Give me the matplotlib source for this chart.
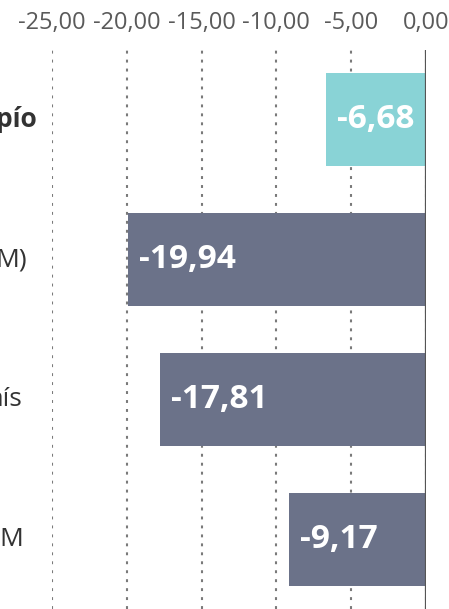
import numpy as np
import matplotlib.pyplot as plt

plt.rcParams['font.family'] = ['Open Sans', 'DejaVu Sans']

# data (labels are cut off on the left in the reference, only their ends show)
labels = ["pío", "M)", "aís", "M"]
label_bold = [True, False, False, False]
label_x = [-0.040, -0.067, -0.078, -0.078]   # right end, axes fraction
values = [-6.68, -19.94, -17.81, -9.17]
colors = ["#89D3D6", "#6B7289", "#6B7289", "#6B7289"]
ticks = [-25, -20, -15, -10, -5, 0]

fig = plt.figure(figsize=(4.49, 6.09), dpi=100)
ax = fig.add_axes([52/449, 0.0, 374/449, 0.918])

y = np.arange(len(values))
ax.barh(y, values, height=0.665, color=colors, zorder=2)

ax.set_xlim(-25, 0)
ax.set_ylim(3.5, -0.5)
ax.set_xticks(ticks)
ax.set_xticklabels([f"{t:.2f}".replace('.', ',') for t in ticks])
ax.xaxis.tick_top()
ax.tick_params(axis='x', length=0, pad=11, labelsize=17, labelcolor='#5a5a5a')
ax.set_yticks([])
for s in ax.spines.values():
    s.set_visible(False)

ax.grid(axis='x', linestyle=(0, (1.4, 2.9)), linewidth=1.5, color='#7a7a7a', zorder=0)
ax.axvline(0, color='#555555', linewidth=1.6, zorder=3)

for i, v in enumerate(values):
    ax.annotate(f"{v:.2f}".replace('.', ','), (v, i), xytext=(8, 0),
                textcoords='offset points', ha='left', va='center',
                color='white', fontsize=24, fontweight='bold', zorder=4)

for i, lab in enumerate(labels):
    ax.text(label_x[i], i, lab, transform=ax.get_yaxis_transform(),
            ha='right', va='center', fontsize=19, color='#333333',
            fontweight='bold' if label_bold[i] else 'normal', clip_on=False)

fig.savefig("out.png", dpi=100)
